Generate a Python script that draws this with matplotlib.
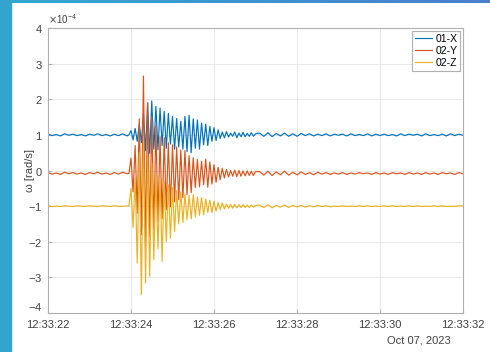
import numpy as np
import matplotlib
matplotlib.use("Agg")
import matplotlib.pyplot as plt
import matplotlib.dates as mdates
from matplotlib.ticker import ScalarFormatter
from matplotlib.patches import Rectangle

# ==========================================================
# Data (angular rate, units of 1e-4 rad/s)
# ==========================================================

START = np.datetime64("2023-10-07T12:33:00")

# sample times in seconds after 12:33:00
t_pre = np.round(np.arange(22.0, 23.95, 0.1), 2)
t_burst = np.round(23.95 + 0.05 * np.arange(62), 2)
t_tail = np.round(27.1 + 0.1 * np.arange(50), 2)

x_pre = [1.02, 0.98, 1.01, 0.97, 1.03, 0.99, 1.02, 0.98, 1.01, 0.97,
         1.02, 0.99, 1.03, 0.98, 1.01, 0.97, 1.02, 0.98, 1.03, 0.97]
y_pre = [-0.06, -0.10, -0.07, -0.11, -0.05, -0.09, -0.06, -0.10, -0.07, -0.11,
         -0.06, -0.09, -0.05, -0.10, -0.07, -0.11, -0.06, -0.10, -0.05, -0.09]
z_pre = [-0.99, -1.01, -1.00, -1.01, -0.99, -1.00, -1.01, -0.99, -1.00, -1.01,
         -0.99, -1.00, -1.01, -0.99, -1.00, -1.01, -0.99, -1.00, -1.01, -0.99]

x_burst = [1.00, 1.12, 0.86, 1.18, 0.82, 1.30, 0.78, 1.60, 0.55, 1.90,
           0.48, 1.95, 0.60, 1.80, 0.58, 1.75, 0.70, 1.66, 0.62, 1.60,
           0.74, 1.52, 0.60, 1.46, 0.66, 1.38, 0.60, 1.52, 0.53, 1.55,
           0.50, 1.45, 0.62, 1.42, 0.60, 1.33, 0.72, 1.30, 0.70, 1.24,
           0.82, 1.20, 0.84, 1.14, 0.90, 1.08, 0.92, 1.09, 0.94, 1.05,
           0.96, 1.08, 0.92, 1.05, 0.95, 1.07, 0.95, 1.04, 0.96, 1.06,
           0.96, 1.03]
y_burst = [-0.08, 0.35, -0.60, 0.70, -1.20, 1.45, -1.80, 2.65, -2.10, 1.90,
           -1.85, 1.50, -1.65, 1.25, -1.45, 0.95, -1.35, 0.92, -1.10, 0.78,
           -1.02, 0.72, -0.88, 0.66, -0.82, 0.58, -0.76, 0.56, -0.68, 0.42,
           -0.62, 0.36, -0.48, 0.31, -0.46, 0.26, -0.40, 0.32, -0.47, 0.24,
           -0.38, 0.16, -0.33, 0.09, -0.26, 0.06, -0.21, 0.03, -0.18, 0.00,
           -0.16, 0.01, -0.17, 0.00, -0.16, -0.01, -0.15, -0.01, -0.14, -0.02,
           -0.14, -0.03]
z_burst = [-1.00, -0.50, -1.60, -0.20, -2.60, 0.50, -3.48, 0.80, -3.15, 0.40,
           -2.97, 0.20, -2.50, -0.10, -2.20, -0.20, -2.55, -0.30, -2.00, -0.40,
           -1.90, -0.48, -1.72, -0.56, -1.50, -0.60, -1.46, -0.66, -1.38, -0.70,
           -1.36, -0.68, -1.30, -0.74, -1.26, -0.76, -1.24, -0.80, -1.18, -0.83,
           -1.18, -0.86, -1.14, -0.90, -1.10, -0.91, -1.08, -0.94, -1.06, -0.95,
           -1.06, -0.95, -1.05, -0.96, -1.04, -0.96, -1.04, -0.97, -1.04, -0.97,
           -1.03, -0.98]

x_tail = [1.05, 0.96, 1.06, 0.95, 1.04, 0.97, 1.05, 0.96, 1.03, 0.96,
          1.04, 0.98, 1.03, 0.97, 1.02, 0.98, 1.03, 0.97, 1.02, 0.99,
          1.02, 0.97, 1.03, 0.98, 1.01, 0.98, 1.03, 0.97, 1.02, 0.98,
          1.02, 0.98, 1.01, 0.97, 1.03, 0.98, 1.02, 0.99, 1.02, 0.97,
          1.03, 0.98, 1.01, 0.98, 1.02, 0.97, 1.03, 0.98, 1.02, 0.99]
y_tail = [-0.03, -0.13, -0.02, -0.14, -0.04, -0.12, -0.02, -0.13, -0.05, -0.12,
          -0.04, -0.11, -0.06, -0.12, -0.05, -0.10, -0.06, -0.11, -0.07, -0.10,
          -0.06, -0.11, -0.07, -0.10, -0.06, -0.09, -0.07, -0.11, -0.06, -0.10,
          -0.07, -0.11, -0.06, -0.09, -0.07, -0.11, -0.06, -0.10, -0.07, -0.11,
          -0.06, -0.10, -0.07, -0.11, -0.06, -0.09, -0.07, -0.11, -0.06, -0.09]
z_tail = [-0.97, -1.04, -0.96, -1.05, -0.98, -1.03, -0.97, -1.04, -0.98, -1.02,
          -0.98, -1.03, -0.99, -1.02, -0.98, -1.01, -0.99, -1.02, -1.00, -1.01,
          -0.99, -1.01, -1.00, -1.01, -0.99, -1.01, -0.99, -1.01, -1.00, -1.01,
          -0.99, -1.01, -0.99, -1.01, -1.00, -1.01, -0.99, -1.01, -0.99, -1.01,
          -1.00, -1.01, -0.99, -1.01, -0.99, -1.01, -1.00, -1.01, -0.99, -1.00]

labels = ["01-X", "02-Y", "02-Z"]
colors = ["#0072BD", "#D95319", "#EDB120"]

seconds = np.concatenate([t_pre, t_burst, t_tail])
times = START + np.round(seconds * 1000).astype("timedelta64[ms]")

series = [
    np.array(x_pre + x_burst + x_tail) * 1e-4,
    np.array(y_pre + y_burst + y_tail) * 1e-4,
    np.array(z_pre + z_burst + z_tail) * 1e-4,
]

# ==========================================================
# Plot
# ==========================================================

plt.rcParams["font.family"] = ["Liberation Sans", "DejaVu Sans"]
plt.rcParams["axes.unicode_minus"] = False

fig = plt.figure(figsize=(4.9, 3.52), dpi=100)

# slide background strips
fig.patches.append(Rectangle((0, 0), 11 / 490, 1, transform=fig.transFigure,
                             color="#31a4cf", zorder=0))
strip = fig.add_axes([0, 1 - 3 / 352, 1, 3 / 352])
strip.imshow(np.linspace(0, 1, 256)[None, :], aspect="auto",
             cmap=matplotlib.colors.LinearSegmentedColormap.from_list(
                 "bar", ["#31a9cf", "#4a7fd0"]))
strip.axis("off")

ax = fig.add_axes([48 / 490, 1 - 313 / 352, 415 / 490, 285 / 352])

for vals, lab, col in zip(series, labels, colors):
    ax.plot(times, vals, color=col, linewidth=0.85, label=lab)

ax.set_xlim(START + np.timedelta64(22, "s"), START + np.timedelta64(32, "s"))
ax.set_ylim(-4e-4, 4e-4)
ax.set_yticks(np.arange(-4, 5) * 1e-4)

fmt = ScalarFormatter(useMathText=True)
fmt.set_powerlimits((0, 0))
ax.yaxis.set_major_formatter(fmt)
ax.yaxis.get_offset_text().set_fontsize(7)
ax.yaxis.get_offset_text().set_color("#404040")

ax.xaxis.set_major_locator(mdates.SecondLocator(bysecond=range(0, 60, 2)))
ax.xaxis.set_major_formatter(mdates.DateFormatter("%H:%M:%S"))

ax.grid(True, color="#e4e4e4", linewidth=0.6)
ax.set_axisbelow(True)
for sp in ax.spines.values():
    sp.set_color("#b0b0b0")
    sp.set_linewidth(0.8)
ax.tick_params(direction="in", length=3, color="#b0b0b0",
               labelsize=8, labelcolor="#404040")
ax.tick_params(axis="x", pad=5)
ax.tick_params(axis="y", pad=4)

# lowest y label sits above the axis line, as in the original
ax.yaxis.get_major_ticks()[0].label1.set_va("bottom")

ax.set_ylabel("ω [rad/s]", fontsize=8, color="#404040")
ax.yaxis.set_label_coords(-0.031, 0.5)

ax.text(0.894, -0.098, "Oct 07, 2023", transform=ax.transAxes,
        ha="center", va="center", fontsize=8, color="#404040")

leg = ax.legend(loc="upper right", fontsize=7.5, handlelength=1.6,
                handletextpad=0.3, labelspacing=0.2, borderpad=0.3,
                borderaxespad=0.25, fancybox=False, framealpha=1)
leg.get_frame().set_edgecolor("#b0b0b0")
leg.get_frame().set_linewidth(0.8)

plt.savefig("out.png", dpi=100)
plt.close()
